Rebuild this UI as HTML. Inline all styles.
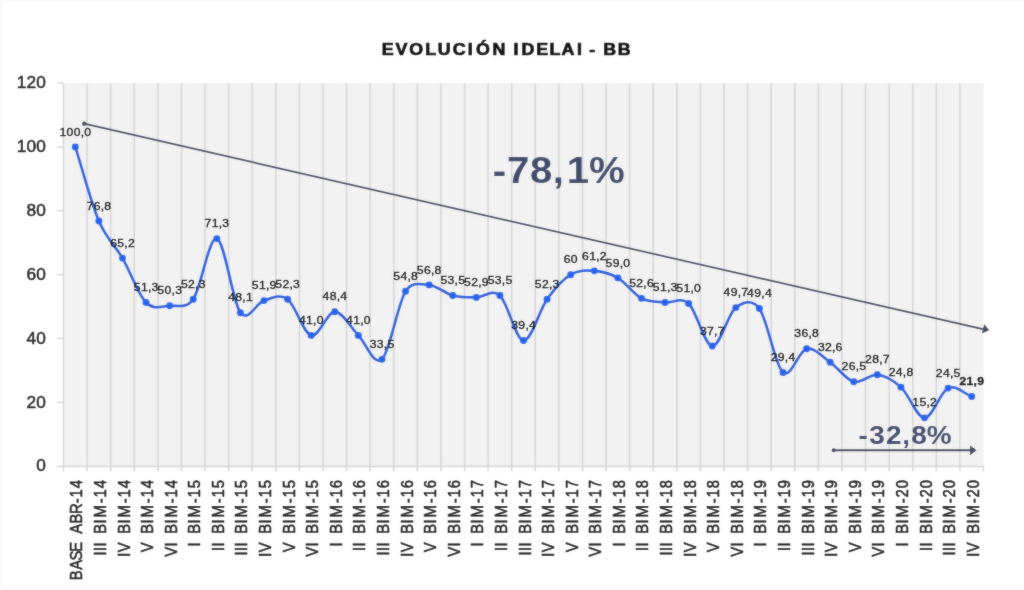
<!DOCTYPE html>
<html lang="es"><head><meta charset="utf-8"><title>EVOLUCIÓN IDELAI - BB</title>
<style>html,body{margin:0;padding:0;background:#fff;overflow:hidden}svg{display:block}text{font-family:"Liberation Sans",sans-serif}</style></head><body>
<svg width="1024" height="590" viewBox="0 0 1024 590">
<defs><filter id="soft" x="0" y="0" width="1024" height="590" filterUnits="userSpaceOnUse"><feGaussianBlur stdDeviation="0.8"/></filter></defs>
<g id="chart">
<rect width="1024" height="590" fill="#fff"/><path d="M0,0.5H1024M1,0V590" stroke="#f8f8f8" stroke-width="2" fill="none"/><rect x="0" y="586" width="1024" height="4" fill="#fcfcfc"/>
<rect x="63.5" y="83.0" width="920.00" height="383.40" fill="#f2f2f2"/>
<path d="M63.50,83.0 V471.4 M87.09,83.0 V471.4 M110.68,83.0 V471.4 M134.27,83.0 V471.4 M157.86,83.0 V471.4 M181.45,83.0 V471.4 M205.04,83.0 V471.4 M228.63,83.0 V471.4 M252.22,83.0 V471.4 M275.81,83.0 V471.4 M299.40,83.0 V471.4 M322.99,83.0 V471.4 M346.58,83.0 V471.4 M370.17,83.0 V471.4 M393.76,83.0 V471.4 M417.35,83.0 V471.4 M440.94,83.0 V471.4 M464.53,83.0 V471.4 M488.12,83.0 V471.4 M511.71,83.0 V471.4 M535.29,83.0 V471.4 M558.88,83.0 V471.4 M582.47,83.0 V471.4 M606.06,83.0 V471.4 M629.65,83.0 V471.4 M653.24,83.0 V471.4 M676.83,83.0 V471.4 M700.42,83.0 V471.4 M724.01,83.0 V471.4 M747.60,83.0 V471.4 M771.19,83.0 V471.4 M794.78,83.0 V471.4 M818.37,83.0 V471.4 M841.96,83.0 V471.4 M865.55,83.0 V471.4 M889.14,83.0 V471.4 M912.73,83.0 V471.4 M936.32,83.0 V471.4 M959.91,83.0 V471.4 M983.50,466.4 V471.4" stroke="#d6d6d6" stroke-width="1.5" fill="none"/>
<path d="M56.9,466.40 H63.5 M56.9,402.50 H63.5 M56.9,338.60 H63.5 M56.9,274.70 H63.5 M56.9,210.80 H63.5 M56.9,146.90 H63.5 M56.9,83.00 H63.5 M63.5,466.4 H983.5" stroke="#d6d6d6" stroke-width="1.5" fill="none"/>
<text transform="scale(1.1,1)" x="37.3" y="471.5" font-size="15.66" text-anchor="middle" fill="#161616" stroke="#161616" stroke-width="0.5">0</text>
<text transform="scale(1.1,1)" x="28.5 37.3" y="407.6" font-size="15.66" text-anchor="middle" fill="#161616" stroke="#161616" stroke-width="0.5">20</text>
<text transform="scale(1.1,1)" x="28.5 37.3" y="343.8" font-size="15.66" text-anchor="middle" fill="#161616" stroke="#161616" stroke-width="0.5">40</text>
<text transform="scale(1.1,1)" x="28.5 37.3" y="279.8" font-size="15.66" text-anchor="middle" fill="#161616" stroke="#161616" stroke-width="0.5">60</text>
<text transform="scale(1.1,1)" x="28.5 37.3" y="216.0" font-size="15.66" text-anchor="middle" fill="#161616" stroke="#161616" stroke-width="0.5">80</text>
<text transform="scale(1.1,1)" x="19.7 28.5 37.3" y="152.0" font-size="15.66" text-anchor="middle" fill="#161616" stroke="#161616" stroke-width="0.5">100</text>
<text transform="scale(1.1,1)" x="19.7 28.5 37.3" y="88.2" font-size="15.66" text-anchor="middle" fill="#161616" stroke="#161616" stroke-width="0.5">120</text>
<text transform="scale(1.1,1)" x="352.4 365.0 378.4 391.5 403.9 417.4 427.5 439.0 453.7 463.2 469.0 479.9 492.9 504.4 516.2 526.8 532.3 538.3 544.1 554.3 567.5" y="55.2" font-size="16.2" font-weight="bold" text-anchor="middle" fill="#000" stroke="#000" stroke-width="0.75">EVOLUCIÓN IDELAI - BB</text>
<g stroke="#444a62" fill="#444a62"><line x1="84.2" y1="123.7" x2="984" y2="329.4" stroke-width="1.7"/><circle cx="84.2" cy="123.7" r="2.2" stroke="none"/><polygon points="989.2,330.3 981.9,333.5 984.3,324.2" stroke="none"/></g>
<text transform="scale(1.08,1)" x="462.4 479.9 501.1 516.9 535.2 561.9" y="183.1" font-size="37.2" font-weight="bold" text-anchor="middle" fill="#3e4a6b">-78,1%</text>
<path d="M75.29,146.90 C83.16,171.61 91.02,202.49 98.88,221.02 C106.75,239.56 114.61,244.51 122.47,258.09 C130.34,271.66 138.20,294.56 146.06,302.50 C153.93,310.43 161.79,306.22 169.65,305.69 C177.52,305.16 186.21,309.30 193.24,299.30 C201.11,288.12 208.97,236.36 216.83,238.60 C224.70,240.83 232.56,302.39 240.42,312.72 C248.29,323.05 256.15,302.82 264.01,300.58 C271.88,298.34 279.74,293.50 287.60,299.30 C295.47,305.11 303.33,333.33 311.19,335.40 C319.06,337.48 326.92,311.76 334.78,311.76 C342.65,311.76 350.51,327.47 358.37,335.40 C366.24,343.34 374.10,366.72 381.96,359.37 C389.82,352.02 397.69,303.72 405.55,291.31 C412.09,280.99 421.28,284.23 429.14,284.92 C437.00,285.62 444.87,293.39 452.73,295.47 C460.59,297.54 468.46,297.38 476.32,297.38 C484.18,297.38 492.05,288.28 499.91,295.47 C507.77,302.66 515.64,339.88 523.50,340.52 C531.36,341.16 539.23,310.27 547.09,299.30 C554.95,288.33 562.82,279.44 570.68,274.70 C578.54,269.96 586.41,270.33 594.27,270.87 C602.13,271.40 610.00,273.32 617.86,277.89 C625.72,282.47 633.59,294.24 641.45,298.34 C649.31,302.44 657.18,301.64 665.04,302.50 C672.90,303.35 680.76,296.21 688.63,303.45 C696.49,310.70 704.35,345.26 712.22,345.95 C720.08,346.64 727.94,313.84 735.81,307.61 C743.67,301.38 752.45,299.02 759.40,308.57 C767.26,319.38 775.12,365.76 782.99,372.47 C790.85,379.18 798.71,350.53 806.58,348.82 C814.44,347.12 822.30,356.76 830.17,362.24 C838.03,367.73 845.89,379.66 853.76,381.73 C861.62,383.81 869.48,373.80 877.35,374.70 C885.21,375.61 893.07,379.98 900.94,387.16 C908.80,394.35 916.66,417.68 924.53,417.84 C932.39,418.00 940.25,391.69 948.12,388.12 C955.98,384.55 963.84,393.66 971.71,396.43" fill="none" stroke="#255ddf" stroke-width="2.55" stroke-linejoin="round" stroke-linecap="round"/>
<g fill="#2463ec"><circle cx="75.29" cy="146.90" r="3.45"/><circle cx="98.88" cy="221.02" r="3.45"/><circle cx="122.47" cy="258.09" r="3.45"/><circle cx="146.06" cy="302.50" r="3.45"/><circle cx="169.65" cy="305.69" r="3.45"/><circle cx="193.24" cy="299.30" r="3.45"/><circle cx="216.83" cy="238.60" r="3.45"/><circle cx="240.42" cy="312.72" r="3.45"/><circle cx="264.01" cy="300.58" r="3.45"/><circle cx="287.60" cy="299.30" r="3.45"/><circle cx="311.19" cy="335.40" r="3.45"/><circle cx="334.78" cy="311.76" r="3.45"/><circle cx="358.37" cy="335.40" r="3.45"/><circle cx="381.96" cy="359.37" r="3.45"/><circle cx="405.55" cy="291.31" r="3.45"/><circle cx="429.14" cy="284.92" r="3.45"/><circle cx="452.73" cy="295.47" r="3.45"/><circle cx="476.32" cy="297.38" r="3.45"/><circle cx="499.91" cy="295.47" r="3.45"/><circle cx="523.50" cy="340.52" r="3.45"/><circle cx="547.09" cy="299.30" r="3.45"/><circle cx="570.68" cy="274.70" r="3.45"/><circle cx="594.27" cy="270.87" r="3.45"/><circle cx="617.86" cy="277.89" r="3.45"/><circle cx="641.45" cy="298.34" r="3.45"/><circle cx="665.04" cy="302.50" r="3.45"/><circle cx="688.63" cy="303.45" r="3.45"/><circle cx="712.22" cy="345.95" r="3.45"/><circle cx="735.81" cy="307.61" r="3.45"/><circle cx="759.40" cy="308.57" r="3.45"/><circle cx="782.99" cy="372.47" r="3.45"/><circle cx="806.58" cy="348.82" r="3.45"/><circle cx="830.17" cy="362.24" r="3.45"/><circle cx="853.76" cy="381.73" r="3.45"/><circle cx="877.35" cy="374.70" r="3.45"/><circle cx="900.94" cy="387.16" r="3.45"/><circle cx="924.53" cy="417.84" r="3.45"/><circle cx="948.12" cy="388.12" r="3.45"/><circle cx="971.71" cy="396.43" r="3.45"/></g>
<text transform="scale(1.16,1)" x="54.2 60.3 66.5 71.0 75.6" y="135.6" font-size="10.50" text-anchor="middle" fill="#101010" stroke="#101010" stroke-width="0.32">100,0</text>
<text transform="scale(1.16,1)" x="77.6 83.7 88.3 92.9" y="209.7" font-size="10.50" text-anchor="middle" fill="#101010" stroke="#101010" stroke-width="0.32">76,8</text>
<text transform="scale(1.16,1)" x="98.0 104.1 108.6 113.2" y="246.8" font-size="10.50" text-anchor="middle" fill="#101010" stroke="#101010" stroke-width="0.32">65,2</text>
<text transform="scale(1.16,1)" x="118.3 124.4 129.0 133.5" y="291.2" font-size="10.50" text-anchor="middle" fill="#101010" stroke="#101010" stroke-width="0.32">51,3</text>
<text transform="scale(1.16,1)" x="138.6 144.7 149.3 153.9" y="294.4" font-size="10.50" text-anchor="middle" fill="#101010" stroke="#101010" stroke-width="0.32">50,3</text>
<text transform="scale(1.16,1)" x="159.0 165.1 169.6 174.2" y="288.0" font-size="10.50" text-anchor="middle" fill="#101010" stroke="#101010" stroke-width="0.32">52,3</text>
<text transform="scale(1.16,1)" x="179.3 185.4 190.0 194.5" y="227.3" font-size="10.50" text-anchor="middle" fill="#101010" stroke="#101010" stroke-width="0.32">71,3</text>
<text transform="scale(1.16,1)" x="199.6 205.8 210.3 214.9" y="301.4" font-size="10.50" text-anchor="middle" fill="#101010" stroke="#101010" stroke-width="0.32">48,1</text>
<text transform="scale(1.16,1)" x="220.0 226.1 230.7 235.2" y="289.3" font-size="10.50" text-anchor="middle" fill="#101010" stroke="#101010" stroke-width="0.32">51,9</text>
<text transform="scale(1.16,1)" x="240.3 246.4 251.0 255.6" y="288.0" font-size="10.50" text-anchor="middle" fill="#101010" stroke="#101010" stroke-width="0.32">52,3</text>
<text transform="scale(1.16,1)" x="260.6 266.8 271.3 275.9" y="324.1" font-size="10.50" text-anchor="middle" fill="#101010" stroke="#101010" stroke-width="0.32">41,0</text>
<text transform="scale(1.16,1)" x="281.0 287.1 291.7 296.2" y="300.5" font-size="10.50" text-anchor="middle" fill="#101010" stroke="#101010" stroke-width="0.32">48,4</text>
<text transform="scale(1.16,1)" x="301.3 307.4 312.0 316.6" y="324.1" font-size="10.50" text-anchor="middle" fill="#101010" stroke="#101010" stroke-width="0.32">41,0</text>
<text transform="scale(1.16,1)" x="321.7 327.8 332.3 336.9" y="348.1" font-size="10.50" text-anchor="middle" fill="#101010" stroke="#101010" stroke-width="0.32">33,5</text>
<text transform="scale(1.16,1)" x="342.0 348.1 352.7 357.2" y="280.0" font-size="10.50" text-anchor="middle" fill="#101010" stroke="#101010" stroke-width="0.32">54,8</text>
<text transform="scale(1.16,1)" x="362.3 368.4 373.0 377.6" y="273.6" font-size="10.50" text-anchor="middle" fill="#101010" stroke="#101010" stroke-width="0.32">56,8</text>
<text transform="scale(1.16,1)" x="382.7 388.8 393.3 397.9" y="284.2" font-size="10.50" text-anchor="middle" fill="#101010" stroke="#101010" stroke-width="0.32">53,5</text>
<text transform="scale(1.16,1)" x="403.0 409.1 413.7 418.2" y="286.1" font-size="10.50" text-anchor="middle" fill="#101010" stroke="#101010" stroke-width="0.32">52,9</text>
<text transform="scale(1.16,1)" x="423.3 429.5 434.0 438.6" y="284.2" font-size="10.50" text-anchor="middle" fill="#101010" stroke="#101010" stroke-width="0.32">53,5</text>
<text transform="scale(1.16,1)" x="443.7 449.8 454.4 458.9" y="329.2" font-size="10.50" text-anchor="middle" fill="#101010" stroke="#101010" stroke-width="0.32">39,4</text>
<text transform="scale(1.16,1)" x="464.0 470.1 474.7 479.3" y="288.0" font-size="10.50" text-anchor="middle" fill="#101010" stroke="#101010" stroke-width="0.32">52,3</text>
<text transform="scale(1.16,1)" x="488.9 495.0" y="263.4" font-size="10.50" text-anchor="middle" fill="#101010" stroke="#101010" stroke-width="0.32">60</text>
<text transform="scale(1.16,1)" x="504.7 510.8 515.4 519.9" y="259.6" font-size="10.50" text-anchor="middle" fill="#101010" stroke="#101010" stroke-width="0.32">61,2</text>
<text transform="scale(1.16,1)" x="525.0 531.1 535.7 540.3" y="266.6" font-size="10.50" text-anchor="middle" fill="#101010" stroke="#101010" stroke-width="0.32">59,0</text>
<text transform="scale(1.16,1)" x="545.4 551.5 556.0 560.6" y="287.0" font-size="10.50" text-anchor="middle" fill="#101010" stroke="#101010" stroke-width="0.32">52,6</text>
<text transform="scale(1.16,1)" x="565.7 571.8 576.4 580.9" y="291.2" font-size="10.50" text-anchor="middle" fill="#101010" stroke="#101010" stroke-width="0.32">51,3</text>
<text transform="scale(1.16,1)" x="586.0 592.1 596.7 601.3" y="292.2" font-size="10.50" text-anchor="middle" fill="#101010" stroke="#101010" stroke-width="0.32">51,0</text>
<text transform="scale(1.16,1)" x="606.4 612.5 617.0 621.6" y="334.6" font-size="10.50" text-anchor="middle" fill="#101010" stroke="#101010" stroke-width="0.32">37,7</text>
<text transform="scale(1.16,1)" x="626.7 632.8 637.4 641.9" y="296.3" font-size="10.50" text-anchor="middle" fill="#101010" stroke="#101010" stroke-width="0.32">49,7</text>
<text transform="scale(1.16,1)" x="647.0 653.1 657.7 662.3" y="297.3" font-size="10.50" text-anchor="middle" fill="#101010" stroke="#101010" stroke-width="0.32">49,4</text>
<text transform="scale(1.16,1)" x="667.4 673.5 678.0 682.6" y="361.2" font-size="10.50" text-anchor="middle" fill="#101010" stroke="#101010" stroke-width="0.32">29,4</text>
<text transform="scale(1.16,1)" x="687.7 693.8 698.4 702.9" y="337.5" font-size="10.50" text-anchor="middle" fill="#101010" stroke="#101010" stroke-width="0.32">36,8</text>
<text transform="scale(1.16,1)" x="708.0 714.2 718.7 723.3" y="350.9" font-size="10.50" text-anchor="middle" fill="#101010" stroke="#101010" stroke-width="0.32">32,6</text>
<text transform="scale(1.16,1)" x="728.4 734.5 739.1 743.6" y="370.4" font-size="10.50" text-anchor="middle" fill="#101010" stroke="#101010" stroke-width="0.32">26,5</text>
<text transform="scale(1.16,1)" x="748.7 754.8 759.4 764.0" y="363.4" font-size="10.50" text-anchor="middle" fill="#101010" stroke="#101010" stroke-width="0.32">28,7</text>
<text transform="scale(1.16,1)" x="769.0 775.2 779.7 784.3" y="375.9" font-size="10.50" text-anchor="middle" fill="#101010" stroke="#101010" stroke-width="0.32">24,8</text>
<text transform="scale(1.16,1)" x="789.4 795.5 800.1 804.6" y="406.5" font-size="10.50" text-anchor="middle" fill="#101010" stroke="#101010" stroke-width="0.32">15,2</text>
<text transform="scale(1.16,1)" x="809.7 815.8 820.4 825.0" y="376.8" font-size="10.50" text-anchor="middle" fill="#101010" stroke="#101010" stroke-width="0.32">24,5</text>
<text transform="scale(1.16,1)" x="830.0 836.1 840.7 845.3" y="385.1" font-size="10.50" text-anchor="middle" fill="#101010" stroke="#101010" stroke-width="0.3" font-weight="bold">21,9</text>
<g stroke="#444a62" fill="#444a62"><line x1="833.7" y1="450.3" x2="971" y2="450.3" stroke-width="2"/><circle cx="833.7" cy="450.3" r="2" stroke="none"/><polygon points="976.6,450.3 970,445.4 970,455.2" stroke="none"/></g>
<text transform="scale(1.1,1)" x="784.6 797.4 812.5 823.7 835.4 853.9" y="443.7" font-size="25.4" font-weight="bold" text-anchor="middle" fill="#3e4a6b">-32,8%</text>
<text transform="translate(82.3,479.4) rotate(-90) scale(0.9,1)" x="-106.5 -95.0 -84.5 -74.9 -65.3 -54.8 -43.4 -32.4 -23.7 -15.5 -5.2" y="0.0" font-size="16.47" text-anchor="middle" fill="#141414" stroke="#141414" stroke-width="0.6">BASE ABR-14</text>
<text transform="translate(105.9,479.4) rotate(-90) scale(0.9,1)" x="-82.4 -77.3 -72.2 -65.0 -54.9 -46.8 -35.5 -23.7 -15.5 -5.2" y="0.0" font-size="16.47" text-anchor="middle" fill="#141414" stroke="#141414" stroke-width="0.6">III BIM-14</text>
<text transform="translate(129.5,479.4) rotate(-90) scale(0.9,1)" x="-83.7 -75.4 -65.0 -54.9 -46.8 -35.5 -23.7 -15.5 -5.2" y="0.0" font-size="16.47" text-anchor="middle" fill="#141414" stroke="#141414" stroke-width="0.6">IV BIM-14</text>
<text transform="translate(153.1,479.4) rotate(-90) scale(0.9,1)" x="-75.4 -65.0 -54.9 -46.8 -35.5 -23.7 -15.5 -5.2" y="0.0" font-size="16.47" text-anchor="middle" fill="#141414" stroke="#141414" stroke-width="0.6">V BIM-14</text>
<text transform="translate(176.7,479.4) rotate(-90) scale(0.9,1)" x="-80.5 -72.2 -65.0 -54.9 -46.8 -35.5 -23.7 -15.5 -5.2" y="0.0" font-size="16.47" text-anchor="middle" fill="#141414" stroke="#141414" stroke-width="0.6">VI BIM-14</text>
<text transform="translate(200.2,479.4) rotate(-90) scale(0.9,1)" x="-72.2 -65.0 -54.9 -46.8 -35.5 -23.7 -15.5 -5.2" y="0.0" font-size="16.47" text-anchor="middle" fill="#141414" stroke="#141414" stroke-width="0.6">I BIM-15</text>
<text transform="translate(223.8,479.4) rotate(-90) scale(0.9,1)" x="-77.3 -72.2 -65.0 -54.9 -46.8 -35.5 -23.7 -15.5 -5.2" y="0.0" font-size="16.47" text-anchor="middle" fill="#141414" stroke="#141414" stroke-width="0.6">II BIM-15</text>
<text transform="translate(247.4,479.4) rotate(-90) scale(0.9,1)" x="-82.4 -77.3 -72.2 -65.0 -54.9 -46.8 -35.5 -23.7 -15.5 -5.2" y="0.0" font-size="16.47" text-anchor="middle" fill="#141414" stroke="#141414" stroke-width="0.6">III BIM-15</text>
<text transform="translate(271.0,479.4) rotate(-90) scale(0.9,1)" x="-83.7 -75.4 -65.0 -54.9 -46.8 -35.5 -23.7 -15.5 -5.2" y="0.0" font-size="16.47" text-anchor="middle" fill="#141414" stroke="#141414" stroke-width="0.6">IV BIM-15</text>
<text transform="translate(294.6,479.4) rotate(-90) scale(0.9,1)" x="-75.4 -65.0 -54.9 -46.8 -35.5 -23.7 -15.5 -5.2" y="0.0" font-size="16.47" text-anchor="middle" fill="#141414" stroke="#141414" stroke-width="0.6">V BIM-15</text>
<text transform="translate(318.2,479.4) rotate(-90) scale(0.9,1)" x="-80.5 -72.2 -65.0 -54.9 -46.8 -35.5 -23.7 -15.5 -5.2" y="0.0" font-size="16.47" text-anchor="middle" fill="#141414" stroke="#141414" stroke-width="0.6">VI BIM-15</text>
<text transform="translate(341.8,479.4) rotate(-90) scale(0.9,1)" x="-72.2 -65.0 -54.9 -46.8 -35.5 -23.7 -15.5 -5.2" y="0.0" font-size="16.47" text-anchor="middle" fill="#141414" stroke="#141414" stroke-width="0.6">I BIM-16</text>
<text transform="translate(365.4,479.4) rotate(-90) scale(0.9,1)" x="-77.3 -72.2 -65.0 -54.9 -46.8 -35.5 -23.7 -15.5 -5.2" y="0.0" font-size="16.47" text-anchor="middle" fill="#141414" stroke="#141414" stroke-width="0.6">II BIM-16</text>
<text transform="translate(389.0,479.4) rotate(-90) scale(0.9,1)" x="-82.4 -77.3 -72.2 -65.0 -54.9 -46.8 -35.5 -23.7 -15.5 -5.2" y="0.0" font-size="16.47" text-anchor="middle" fill="#141414" stroke="#141414" stroke-width="0.6">III BIM-16</text>
<text transform="translate(412.6,479.4) rotate(-90) scale(0.9,1)" x="-83.7 -75.4 -65.0 -54.9 -46.8 -35.5 -23.7 -15.5 -5.2" y="0.0" font-size="16.47" text-anchor="middle" fill="#141414" stroke="#141414" stroke-width="0.6">IV BIM-16</text>
<text transform="translate(436.1,479.4) rotate(-90) scale(0.9,1)" x="-75.4 -65.0 -54.9 -46.8 -35.5 -23.7 -15.5 -5.2" y="0.0" font-size="16.47" text-anchor="middle" fill="#141414" stroke="#141414" stroke-width="0.6">V BIM-16</text>
<text transform="translate(459.7,479.4) rotate(-90) scale(0.9,1)" x="-80.5 -72.2 -65.0 -54.9 -46.8 -35.5 -23.7 -15.5 -5.2" y="0.0" font-size="16.47" text-anchor="middle" fill="#141414" stroke="#141414" stroke-width="0.6">VI BIM-16</text>
<text transform="translate(483.3,479.4) rotate(-90) scale(0.9,1)" x="-72.2 -65.0 -54.9 -46.8 -35.5 -23.7 -15.5 -5.2" y="0.0" font-size="16.47" text-anchor="middle" fill="#141414" stroke="#141414" stroke-width="0.6">I BIM-17</text>
<text transform="translate(506.9,479.4) rotate(-90) scale(0.9,1)" x="-77.3 -72.2 -65.0 -54.9 -46.8 -35.5 -23.7 -15.5 -5.2" y="0.0" font-size="16.47" text-anchor="middle" fill="#141414" stroke="#141414" stroke-width="0.6">II BIM-17</text>
<text transform="translate(530.5,479.4) rotate(-90) scale(0.9,1)" x="-82.4 -77.3 -72.2 -65.0 -54.9 -46.8 -35.5 -23.7 -15.5 -5.2" y="0.0" font-size="16.47" text-anchor="middle" fill="#141414" stroke="#141414" stroke-width="0.6">III BIM-17</text>
<text transform="translate(554.1,479.4) rotate(-90) scale(0.9,1)" x="-83.7 -75.4 -65.0 -54.9 -46.8 -35.5 -23.7 -15.5 -5.2" y="0.0" font-size="16.47" text-anchor="middle" fill="#141414" stroke="#141414" stroke-width="0.6">IV BIM-17</text>
<text transform="translate(577.7,479.4) rotate(-90) scale(0.9,1)" x="-75.4 -65.0 -54.9 -46.8 -35.5 -23.7 -15.5 -5.2" y="0.0" font-size="16.47" text-anchor="middle" fill="#141414" stroke="#141414" stroke-width="0.6">V BIM-17</text>
<text transform="translate(601.3,479.4) rotate(-90) scale(0.9,1)" x="-80.5 -72.2 -65.0 -54.9 -46.8 -35.5 -23.7 -15.5 -5.2" y="0.0" font-size="16.47" text-anchor="middle" fill="#141414" stroke="#141414" stroke-width="0.6">VI BIM-17</text>
<text transform="translate(624.9,479.4) rotate(-90) scale(0.9,1)" x="-72.2 -65.0 -54.9 -46.8 -35.5 -23.7 -15.5 -5.2" y="0.0" font-size="16.47" text-anchor="middle" fill="#141414" stroke="#141414" stroke-width="0.6">I BIM-18</text>
<text transform="translate(648.4,479.4) rotate(-90) scale(0.9,1)" x="-77.3 -72.2 -65.0 -54.9 -46.8 -35.5 -23.7 -15.5 -5.2" y="0.0" font-size="16.47" text-anchor="middle" fill="#141414" stroke="#141414" stroke-width="0.6">II BIM-18</text>
<text transform="translate(672.0,479.4) rotate(-90) scale(0.9,1)" x="-82.4 -77.3 -72.2 -65.0 -54.9 -46.8 -35.5 -23.7 -15.5 -5.2" y="0.0" font-size="16.47" text-anchor="middle" fill="#141414" stroke="#141414" stroke-width="0.6">III BIM-18</text>
<text transform="translate(695.6,479.4) rotate(-90) scale(0.9,1)" x="-83.7 -75.4 -65.0 -54.9 -46.8 -35.5 -23.7 -15.5 -5.2" y="0.0" font-size="16.47" text-anchor="middle" fill="#141414" stroke="#141414" stroke-width="0.6">IV BIM-18</text>
<text transform="translate(719.2,479.4) rotate(-90) scale(0.9,1)" x="-75.4 -65.0 -54.9 -46.8 -35.5 -23.7 -15.5 -5.2" y="0.0" font-size="16.47" text-anchor="middle" fill="#141414" stroke="#141414" stroke-width="0.6">V BIM-18</text>
<text transform="translate(742.8,479.4) rotate(-90) scale(0.9,1)" x="-80.5 -72.2 -65.0 -54.9 -46.8 -35.5 -23.7 -15.5 -5.2" y="0.0" font-size="16.47" text-anchor="middle" fill="#141414" stroke="#141414" stroke-width="0.6">VI BIM-18</text>
<text transform="translate(766.4,479.4) rotate(-90) scale(0.9,1)" x="-72.2 -65.0 -54.9 -46.8 -35.5 -23.7 -15.5 -5.2" y="0.0" font-size="16.47" text-anchor="middle" fill="#141414" stroke="#141414" stroke-width="0.6">I BIM-19</text>
<text transform="translate(790.0,479.4) rotate(-90) scale(0.9,1)" x="-77.3 -72.2 -65.0 -54.9 -46.8 -35.5 -23.7 -15.5 -5.2" y="0.0" font-size="16.47" text-anchor="middle" fill="#141414" stroke="#141414" stroke-width="0.6">II BIM-19</text>
<text transform="translate(813.6,479.4) rotate(-90) scale(0.9,1)" x="-82.4 -77.3 -72.2 -65.0 -54.9 -46.8 -35.5 -23.7 -15.5 -5.2" y="0.0" font-size="16.47" text-anchor="middle" fill="#141414" stroke="#141414" stroke-width="0.6">III BIM-19</text>
<text transform="translate(837.2,479.4) rotate(-90) scale(0.9,1)" x="-83.7 -75.4 -65.0 -54.9 -46.8 -35.5 -23.7 -15.5 -5.2" y="0.0" font-size="16.47" text-anchor="middle" fill="#141414" stroke="#141414" stroke-width="0.6">IV BIM-19</text>
<text transform="translate(860.8,479.4) rotate(-90) scale(0.9,1)" x="-75.4 -65.0 -54.9 -46.8 -35.5 -23.7 -15.5 -5.2" y="0.0" font-size="16.47" text-anchor="middle" fill="#141414" stroke="#141414" stroke-width="0.6">V BIM-19</text>
<text transform="translate(884.3,479.4) rotate(-90) scale(0.9,1)" x="-80.5 -72.2 -65.0 -54.9 -46.8 -35.5 -23.7 -15.5 -5.2" y="0.0" font-size="16.47" text-anchor="middle" fill="#141414" stroke="#141414" stroke-width="0.6">VI BIM-19</text>
<text transform="translate(907.9,479.4) rotate(-90) scale(0.9,1)" x="-72.2 -65.0 -54.9 -46.8 -35.5 -23.7 -15.5 -5.2" y="0.0" font-size="16.47" text-anchor="middle" fill="#141414" stroke="#141414" stroke-width="0.6">I BIM-20</text>
<text transform="translate(931.5,479.4) rotate(-90) scale(0.9,1)" x="-77.3 -72.2 -65.0 -54.9 -46.8 -35.5 -23.7 -15.5 -5.2" y="0.0" font-size="16.47" text-anchor="middle" fill="#141414" stroke="#141414" stroke-width="0.6">II BIM-20</text>
<text transform="translate(955.1,479.4) rotate(-90) scale(0.9,1)" x="-82.4 -77.3 -72.2 -65.0 -54.9 -46.8 -35.5 -23.7 -15.5 -5.2" y="0.0" font-size="16.47" text-anchor="middle" fill="#141414" stroke="#141414" stroke-width="0.6">III BIM-20</text>
<text transform="translate(978.7,479.4) rotate(-90) scale(0.9,1)" x="-83.7 -75.4 -65.0 -54.9 -46.8 -35.5 -23.7 -15.5 -5.2" y="0.0" font-size="16.47" text-anchor="middle" fill="#141414" stroke="#141414" stroke-width="0.6">IV BIM-20</text>
</g>
<use href="#chart" filter="url(#soft)" opacity="0.4"/>
</svg></body></html>
